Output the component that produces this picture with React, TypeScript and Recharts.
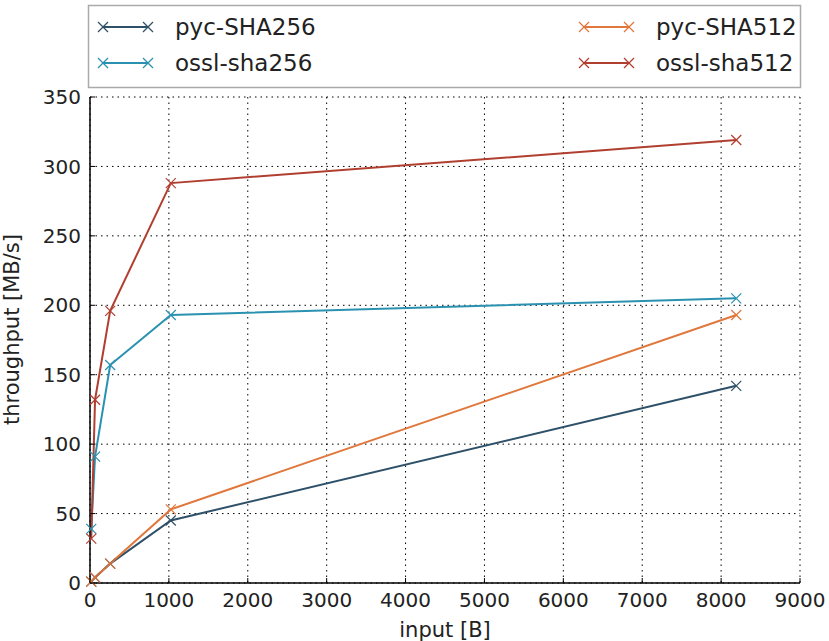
import React from "react";
import { LineChart, Line, XAxis, YAxis, CartesianGrid, Legend } from "recharts";

const inputSizes = [16, 64, 256, 1024, 8192];
const pycSha256 = [1, 4, 14, 45, 142];
const osslSha256 = [39, 91, 157, 193, 205];
const pycSha512 = [1, 4, 14, 53, 193];
const osslSha512 = [32, 132, 196, 288, 319];
const xTicks = [0, 1000, 2000, 3000, 4000, 5000, 6000, 7000, 8000, 9000];
const yTicks = [0, 50, 100, 150, 200, 250, 300, 350];

const series = [
  { key: "pycSha256", name: "pyc-SHA256", color: "#2e5068" },
  { key: "osslSha256", name: "ossl-sha256", color: "#2a91b1" },
  { key: "pycSha512", name: "pyc-SHA512", color: "#e0773c" },
  { key: "osslSha512", name: "ossl-sha512", color: "#b13f30" },
];

const data = inputSizes.map((x, i) => ({
  x,
  pycSha256: pycSha256[i],
  osslSha256: osslSha256[i],
  pycSha512: pycSha512[i],
  osslSha512: osslSha512[i],
}));

const FONT = "'DejaVu Sans', sans-serif";
const TXT = "#222";
const TM = 9; // tick margin
const TL = 5; // inward tick length

const XDot = (color: string) => (props: any) => {
  const { cx, cy, index } = props;
  if (cx == null || cy == null) return <g key={index} />;
  const s = 5;
  return (
    <g key={index} stroke={color} strokeWidth={1.2}>
      <line x1={cx - s} y1={cy - s} x2={cx + s} y2={cy + s} />
      <line x1={cx - s} y1={cy + s} x2={cx + s} y2={cy - s} />
    </g>
  );
};

const BottomTick = (props: any) => {
  const { x, y, payload } = props;
  return (
    <g>
      <line x1={x} x2={x} y1={y - TM} y2={y - TM - TL} stroke="#000" strokeWidth={1} />
      <text x={x} y={y} dy="0.76em" textAnchor="middle" fontSize={20} fontFamily={FONT} fill={TXT}>
        {payload.value}
      </text>
    </g>
  );
};
const TopTick = (props: any) => {
  const { x, y } = props;
  return <line x1={x} x2={x} y1={y + TM} y2={y + TM + TL} stroke="#000" strokeWidth={1} />;
};
const LeftTick = (props: any) => {
  const { x, y, payload } = props;
  return (
    <g>
      <line x1={x + TM} x2={x + TM + TL} y1={y} y2={y} stroke="#000" strokeWidth={1} />
      <text x={x} y={y} dy="0.36em" textAnchor="end" fontSize={20} fontFamily={FONT} fill={TXT}>
        {payload.value}
      </text>
    </g>
  );
};
const RightTick = (props: any) => {
  const { x, y } = props;
  return <line x1={x - TM} x2={x - TM - TL} y1={y} y2={y} stroke="#000" strokeWidth={1} />;
};

const LegendBox = () => {
  const item = (s: typeof series[0], x: number, y: number) => (
    <g key={s.key}>
      <line x1={x} y1={y} x2={x + 45} y2={y} stroke={s.color} strokeWidth={2} />
      {[x, x + 45].map((cx) => (
        <g key={cx} stroke={s.color} strokeWidth={1.2}>
          <line x1={cx - 5} y1={y - 5} x2={cx + 5} y2={y + 5} />
          <line x1={cx - 5} y1={y + 5} x2={cx + 5} y2={y - 5} />
        </g>
      ))}
      <text x={x + 72} y={y + 8} fontSize={23} fontFamily={FONT} fill={TXT}>
        {s.name}
      </text>
    </g>
  );
  return (
    <svg width={829} height={100} style={{ position: "absolute", left: 0, top: 0, overflow: "visible" }}>
      <rect x={88.5} y={5.5} width={712} height={82} fill="#fff" stroke="#aaa" strokeWidth={1.5} />
      {item(series[0], 103, 27)}
      {item(series[1], 103, 63)}
      {item(series[2], 584, 27)}
      {item(series[3], 584, 63)}
    </svg>
  );
};

export default function App() {
  return (
    <div style={{ position: "absolute", left: 0, top: 0, width: 829, height: 641, background: "#fff" }}>
      <LineChart
        width={829}
        height={641}
        data={data}
        margin={{ top: 97, right: 29, bottom: 28, left: 40 }}
      >
        <CartesianGrid
          xAxisId="b"
          yAxisId="l"
          stroke="#000"
          strokeDasharray="1.5 4"
          strokeWidth={1}
          horizontalValues={yTicks}
          verticalValues={xTicks}
        />
        <XAxis
          xAxisId="b"
          dataKey="x"
          type="number"
          domain={[0, 9000]}
          ticks={xTicks}
          interval={0}
          height={30}
          stroke="#000"
          strokeWidth={1.5}
          tickLine={false}
          tickSize={0}
          tickMargin={TM}
          tick={BottomTick}
          label={{ value: "input [B]", position: "insideBottom", offset: -24, fill: TXT, fontSize: 21, fontFamily: FONT }}
        />
        <XAxis
          xAxisId="t"
          orientation="top"
          dataKey="x"
          type="number"
          domain={[0, 9000]}
          ticks={xTicks}
          interval={0}
          height={0}
          stroke="#000"
          strokeWidth={1.5}
          tickLine={false}
          tickSize={0}
          tickMargin={TM}
          tick={TopTick}
        />
        <YAxis
          yAxisId="l"
          type="number"
          domain={[0, 350]}
          ticks={yTicks}
          interval={0}
          width={50}
          stroke="#000"
          strokeWidth={1.5}
          tickLine={false}
          tickSize={0}
          tickMargin={TM}
          tick={LeftTick}
          label={{ value: "throughput [MB/s]", angle: -90, position: "insideLeft", offset: -28, dy: 85, fill: TXT, fontSize: 21, fontFamily: FONT }}
        />
        <YAxis
          yAxisId="r"
          orientation="right"
          type="number"
          domain={[0, 350]}
          ticks={yTicks}
          interval={0}
          width={0}
          stroke="#000"
          strokeWidth={1.5}
          tickLine={false}
          tickSize={0}
          tickMargin={TM}
          tick={RightTick}
        />
        {series.map((s) => (
          <Line
            key={s.key}
            xAxisId="b"
            yAxisId="l"
            dataKey={s.key}
            name={s.name}
            stroke={s.color}
            strokeWidth={2}
            type="linear"
            dot={XDot(s.color)}
            activeDot={false}
            isAnimationActive={false}
          />
        ))}
        <Legend content={() => null} />
      </LineChart>
      <LegendBox />
    </div>
  );
}
